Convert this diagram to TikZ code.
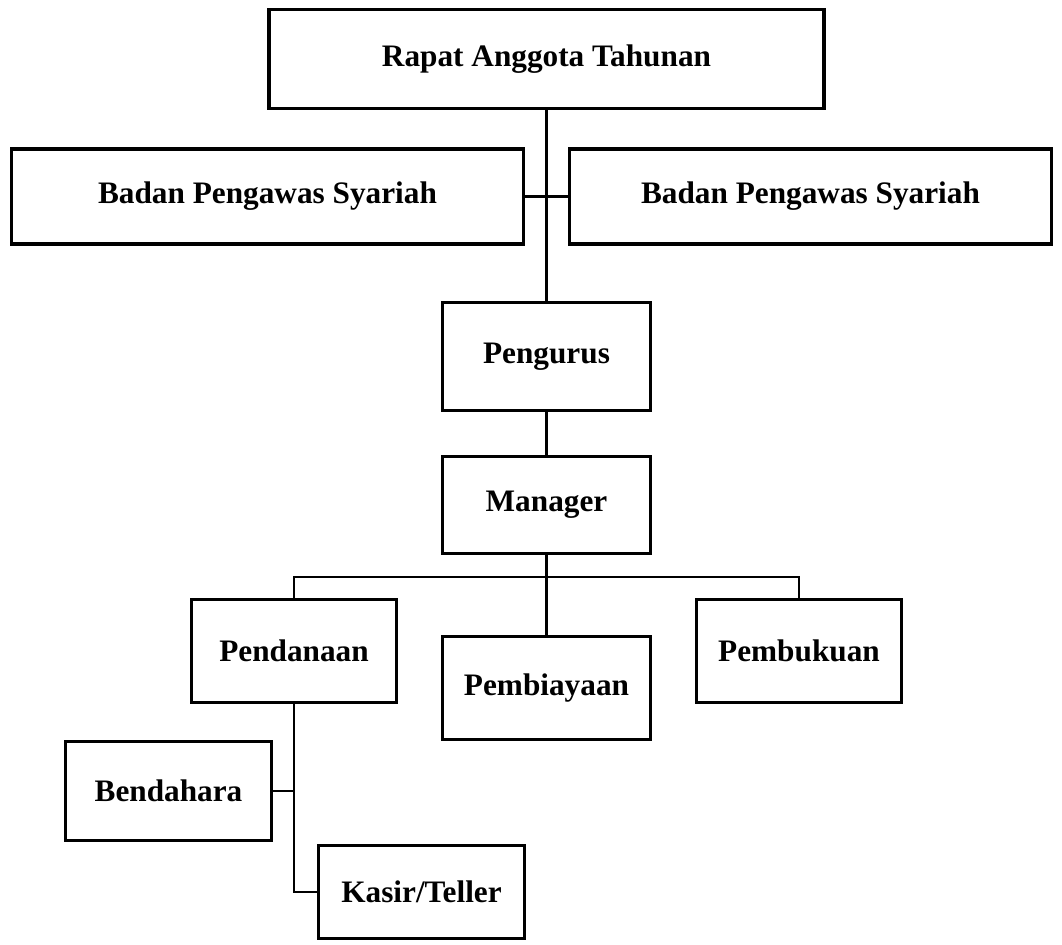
\documentclass[tikz,border=0pt]{standalone}
\usepackage{fontspec}
\setmainfont{Liberation Serif}
\usepackage{tikz}

\tikzset{
  kotak/.style={draw, line width=1.8pt, inner sep=0pt, align=center,
    font=\bfseries\fontsize{17.8}{20}\selectfont},
  garis/.style={line width=1.2pt}
}

\begin{document}
\begin{tikzpicture}[x=0.02cm, y=-0.02cm]
  \useasboundingbox (0,0) rectangle (1062,944);
  % kotak-kotak
  \node[kotak, minimum width=11.1cm, minimum height=1.98cm] (rat) at (546.5,59) {Rapat Anggota Tahunan};
  \node[kotak, minimum width=10.24cm, minimum height=1.9cm] (bpsL) at (267.5,196.5) {Badan Pengawas Syariah};
  \node[kotak, minimum width=9.64cm, minimum height=1.9cm] (bpsR) at (810.5,196.5) {Badan Pengawas Syariah};
  \node[kotak, minimum width=4.16cm, minimum height=2.16cm] (peng) at (546.5,356.5) {Pengurus};
  \node[kotak, minimum width=4.16cm, minimum height=1.94cm] (mgr) at (546.5,505) {Manager};
  \node[kotak, minimum width=4.1cm, minimum height=2.06cm] (pend) at (294,651) {Pendanaan};
  \node[kotak, minimum width=4.16cm, minimum height=2.06cm] (pemb) at (546.5,688) {Pembiayaan};
  \node[kotak, minimum width=4.1cm, minimum height=2.06cm] (buku) at (799,651) {Pembukuan};
  \node[kotak, minimum width=4.12cm, minimum height=1.98cm] (bend) at (168.5,791) {Bendahara};
  \node[kotak, minimum width=4.12cm, minimum height=1.86cm] (kasir) at (421.5,892) {Kasir/Teller};
  % garis penghubung
  \draw[garis] (rat.south) -- (peng.north);
  \draw[garis] (bpsL.east) -- (bpsR.west);
  \draw[garis] (peng.south) -- (mgr.north);
  \coordinate (cab) at (546.5,577);
  \draw[garis] (mgr.south) -- (cab) -- (pemb.north);
  \draw[garis] (pend.north) |- (cab) -| (buku.north);
  \draw[garis] (pend.south) |- (kasir.west);
  \draw[garis] (bend.east) -- (bend.east -| pend.south);
\end{tikzpicture}
\end{document}
